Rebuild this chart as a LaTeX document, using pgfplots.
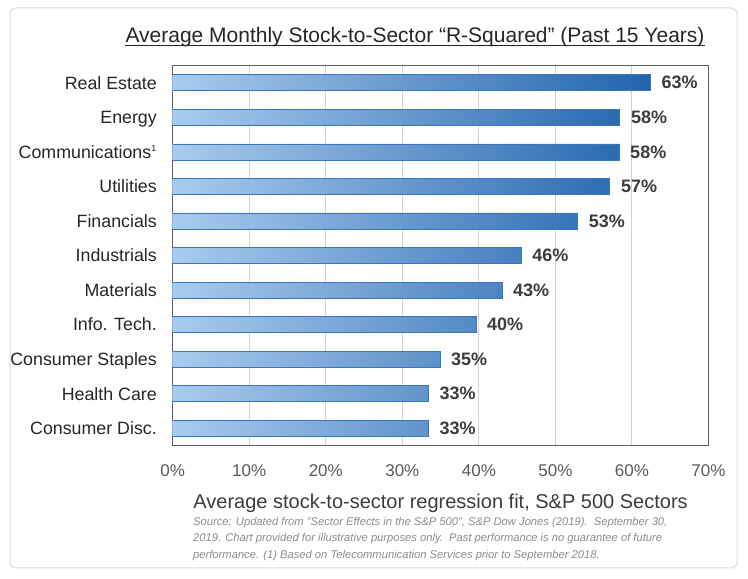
\documentclass[border=0pt]{standalone}
\usepackage{fontspec}
\setmainfont{Liberation Sans}
\usepackage{pgfplots}
\pgfplotsset{compat=1.18}
\definecolor{barL}{HTML}{A9CBEE}
\definecolor{barM}{HTML}{4582C8}
\definecolor{barR}{HTML}{2264AE}
\definecolor{barE}{HTML}{3A76BC}
\definecolor{gridc}{HTML}{D2D2D2}
\definecolor{framec}{HTML}{5E5E5E}
\definecolor{txt}{HTML}{262626}
\definecolor{ticktxt}{HTML}{5A5A5A}
\definecolor{valtxt}{HTML}{3C3C3C}
\definecolor{srctxt}{HTML}{8C8C8C}
\begin{document}
\begin{tikzpicture}[x=1pt,y=1pt]
\useasboundingbox (0,0) rectangle (748,579);
\draw[color=black!14, line width=1pt, rounded corners=6pt] (10,11) rectangle (737,571);
% title
\node[anchor=base, inner sep=0pt, text=txt, font=\fontsize{21}{24}\selectfont] (title) at (415,536.5) {Average Monthly Stock-to-Sector “R-Squared” (Past 15 Years)};
\draw[txt, line width=1.2pt] ([yshift=-3pt]title.base west) -- ([yshift=-3pt]title.base east);
\begin{axis}[
  at={(172.7pt,133.5pt)}, anchor=south west,
  scale only axis, width=535.8pt, height=380pt,
  xmin=0, xmax=70, ymin=-0.5, ymax=10.5, y dir=reverse,
  xtick={0,10,...,70},
  xticklabels={0\%,10\%,20\%,30\%,40\%,50\%,60\%,70\%},
  ytick={0,...,10},
  yticklabels={Real Estate,Energy,Communications\textsuperscript{\fontsize{9}{9}\selectfont 1},Utilities,Financials,Industrials,Materials,Info. Tech.,Consumer Staples,Health Care,Consumer Disc.},
  major tick length=0pt,
  xmajorgrids, grid style={gridc, line width=1pt},
  axis line style={framec, line width=1.5pt},
  xticklabel style={anchor=base, inner sep=0pt, yshift=-30.5pt, text=ticktxt, font=\fontsize{17}{20}\selectfont},
  yticklabel style={anchor=base east, inner sep=0pt, xshift=-15.7pt, yshift=-6.4pt, text=txt, font=\fontsize{17.8}{20}\selectfont},
  xlabel={Average stock-to-sector regression fit, S\&P 500 Sectors},
  xlabel style={at={(axis description cs:0.5,0)}, anchor=base, inner sep=0pt, yshift=-62.5pt, text=valtxt, font=\fontsize{20}{24}\selectfont},
  point meta=explicit symbolic,
  nodes near coords={\pgfplotspointmeta\%},
  nodes near coords style={anchor=west, inner sep=0pt, xshift=11pt, text=valtxt, font=\bfseries\fontsize{18}{20}\selectfont},
]
\addplot[xbar, bar width=16pt, draw=barE, line width=0.6pt, left color=barL, middle color=barM, right color=barR] coordinates {
  (62.4,0) [63]
  (58.4,1) [58]
  (58.3,2) [58]
  (57.1,3) [57]
  (52.9,4) [53]
  (45.5,5) [46]
  (43.0,6) [43]
  (39.6,7) [40]
  (34.9,8) [35]
  (33.4,9) [33]
  (33.4,10) [33]
};
\end{axis}
\node[anchor=base west, inner sep=0pt, align=left, text=srctxt, font=\itshape\fontsize{11.2}{16.5}\selectfont] at (193,20.5) {Source: Updated from "Sector Effects in the S\&P 500", S\&P Dow Jones (2019).\ \ September 30,\\2019. Chart provided for illustrative purposes only.\ \ Past performance is no guarantee of future\\performance. (1) Based on Telecommunication Services prior to September 2018.};
\end{tikzpicture}
\end{document}
